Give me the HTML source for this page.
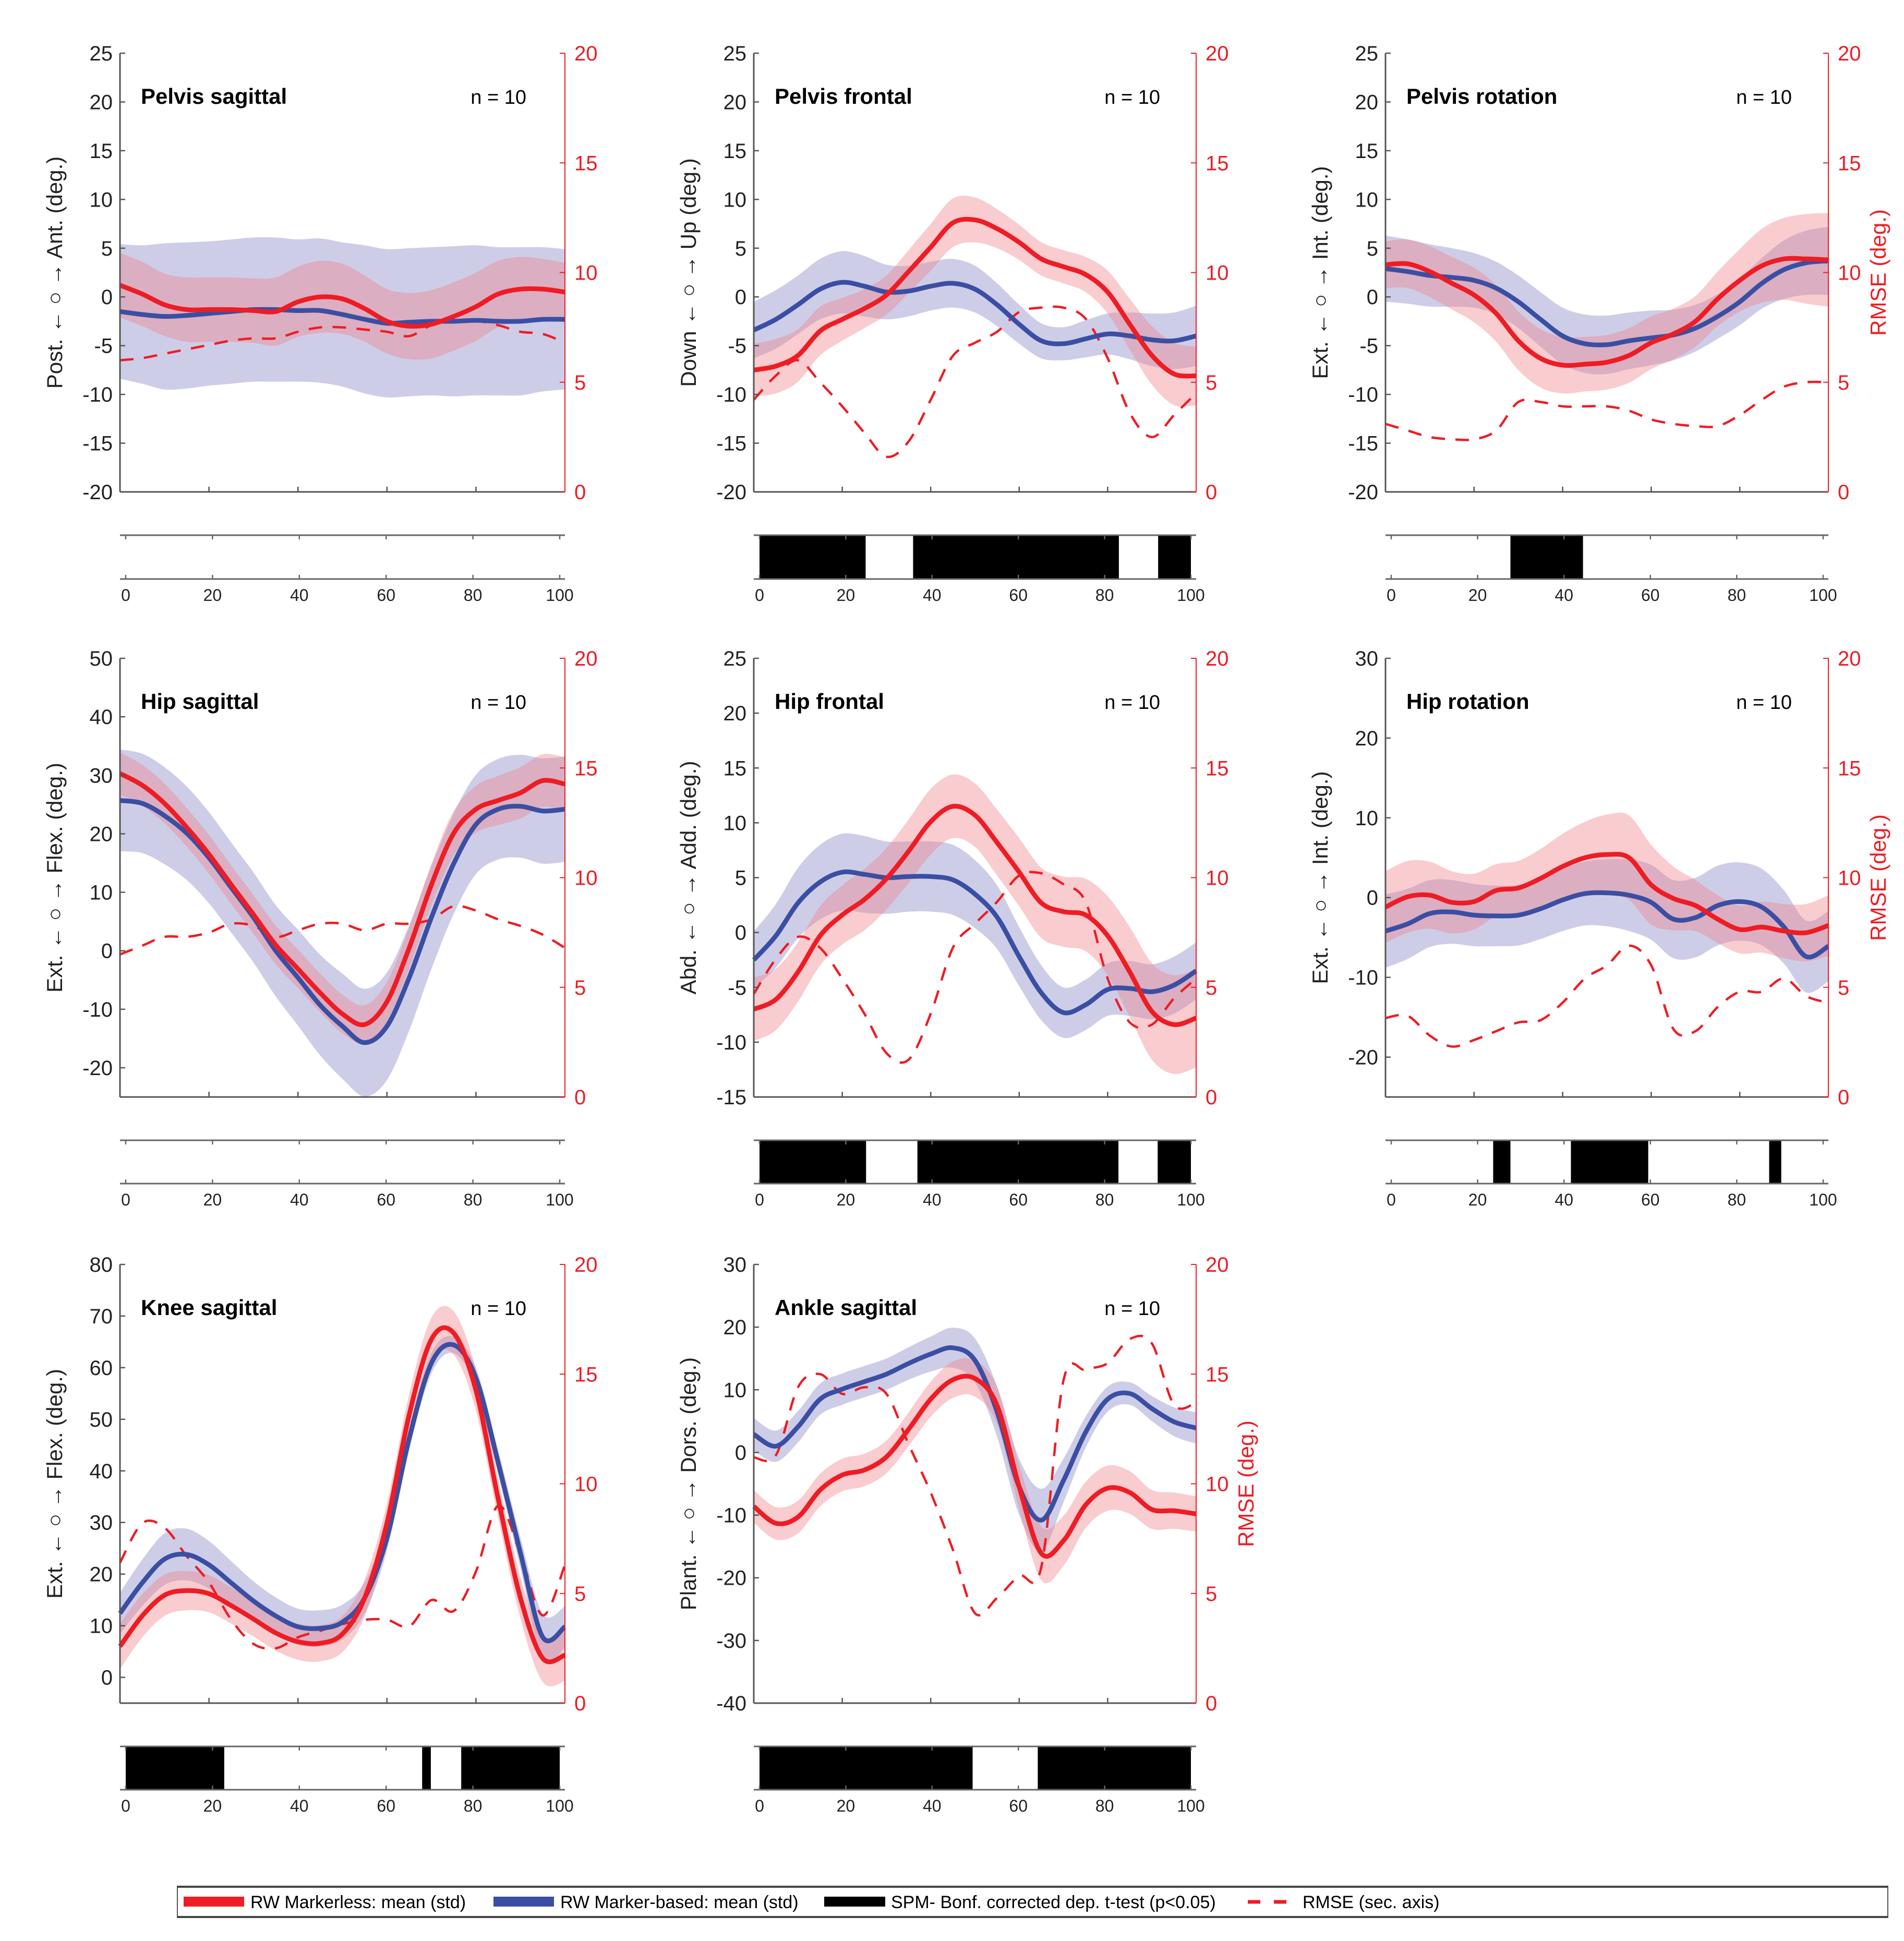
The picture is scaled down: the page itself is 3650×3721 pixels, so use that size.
<!DOCTYPE html>
<html><head><meta charset="utf-8">
<style>
html,body{margin:0;padding:0;background:#fff;}
svg{display:block;font-family:"Liberation Sans",Arial,sans-serif;}
</style></head>
<body>
<svg id="fig" width="3650" height="3721" viewBox="0 0 3650 3721" xmlns="http://www.w3.org/2000/svg">
<g id="legend">
  <rect x="340" y="3616" width="3279" height="60" fill="#fff" stroke="#555" stroke-width="2"/>
  <line x1="340" y1="3617" x2="3619" y2="3617" stroke="#444" stroke-width="4"/>
  <line x1="340" y1="3675" x2="3619" y2="3675" stroke="#444" stroke-width="4"/>
  <rect x="352" y="3636" width="116" height="19" fill="#ee1c24"/>
  <text x="480" y="3658" font-size="34" fill="#000">RW Markerless: mean (std)</text>
  <rect x="946" y="3636" width="116" height="19" fill="#3a4fa3"/>
  <text x="1074" y="3658" font-size="34" fill="#000">RW Marker-based: mean (std)</text>
  <rect x="1580" y="3636" width="117" height="19" fill="#000"/>
  <text x="1708" y="3658" font-size="34" fill="#000">SPM- Bonf. corrected dep. t-test (p&lt;0.05)</text>
  <line x1="2392" y1="3646" x2="2478" y2="3646" stroke="#ee1c24" stroke-width="7" stroke-dasharray="24,26"/>
  <text x="2497" y="3658" font-size="34" fill="#000">RMSE (sec. axis)</text>
</g>
</svg>
<script>
const pct = [0,5,10,15,20,25,30,35,40,45,50,55,60,65,70,75,80,85,90,95,100];
const rmseTicks = [0,5,10,15,20];
const spmTicks = [0,20,40,60,80,100];

// Panel 1: Pelvis sagittal
const p1BlueMean = [-1.5,-1.8,-2,-1.9,-1.7,-1.5,-1.3,-1.3,-1.4,-1.4,-1.8,-2.3,-2.7,-2.6,-2.5,-2.5,-2.4,-2.5,-2.5,-2.3,-2.3];
const p1BlueSd = [6.9,7.1,7.5,7.5,7.4,7.4,7.4,7.4,7.3,7.4,7.4,7.6,7.6,7.6,7.6,7.7,7.7,7.6,7.6,7.4,7.2];
const p1RedMean = [1.2,0.3,-0.8,-1.3,-1.3,-1.3,-1.4,-1.5,-0.5,0,-0.2,-1.2,-2.5,-3,-2.8,-2,-1,0.3,0.8,0.8,0.5];
const p1RedSd = [3.3,3.3,3.2,3.3,3.3,3.3,3.3,3.5,3.6,3.7,3.6,3.4,3.3,3.4,3.5,3.5,3.5,3.4,3.3,3.1,3.0];
const p1Rmse = [6.0,6.1,6.3,6.5,6.7,6.9,7.0,7.0,7.3,7.5,7.5,7.4,7.3,7.1,7.6,7.8,7.8,7.6,7.3,7.2,6.8];
const p1Spm = [];
const p1Ticks = [-20,-15,-10,-5,0,5,10,15,20,25];

// Panel 2: Pelvis frontal
const p2BlueMean = [-3.4,-2.3,-0.8,0.8,1.5,1.1,0.5,0.6,1.1,1.4,0.8,-0.8,-2.8,-4.5,-4.8,-4.3,-3.8,-4.0,-4.4,-4.5,-4.0];
const p2BlueSd = [2.9,3.0,3.0,3.1,3.2,3.1,2.8,2.6,2.5,2.5,2.4,2.2,2.0,1.8,1.7,1.9,2.1,2.4,2.7,2.9,3.1];
const p2RedMean = [-7.5,-7.1,-6.0,-3.5,-2.3,-1.2,0.2,2.6,5.1,7.6,7.9,7.0,5.6,3.9,3.1,2.3,0.5,-2.8,-6.0,-7.9,-8.1];
const p2RedSd = [2.7,2.8,2.7,2.5,2.2,2.0,2.0,2.2,2.4,2.5,2.3,2.0,1.8,1.7,1.7,1.8,2.2,2.6,3.0,3.2,3.0];
const p2Rmse = [4.2,5.3,6.0,5.0,3.9,2.7,1.6,2.3,4.2,6.2,6.8,7.3,8.2,8.4,8.4,7.9,6.1,3.6,2.5,3.5,4.5];
const p2Spm = [[0,24.6],[35.6,83.3],[92.4,100]];
const p2Ticks = [-20,-15,-10,-5,0,5,10,15,20,25];

// Panel 3: Pelvis rotation
const p3BlueMean = [2.9,2.6,2.2,2.0,1.7,0.9,-0.5,-2.3,-4.0,-4.8,-4.9,-4.5,-4.2,-3.9,-3.2,-2.0,-0.5,1.4,2.8,3.5,3.7];
const p3BlueSd = [3.4,3.3,3.2,3.0,2.8,2.7,2.7,2.8,2.9,3.0,3.0,2.9,2.8,2.6,2.4,2.3,2.4,2.6,3.0,3.3,3.5];
const p3RedMean = [3.3,3.4,2.6,1.4,0.2,-1.7,-4.5,-6.3,-7.0,-6.9,-6.7,-6.0,-4.7,-3.8,-2.5,-0.2,1.7,3.2,3.9,3.9,3.8];
const p3RedSd = [2.4,2.5,2.6,2.7,2.8,2.9,3.0,3.0,2.9,2.8,2.8,2.8,2.7,2.6,2.6,2.8,3.2,3.8,4.2,4.6,4.8];
const p3Rmse = [3.1,2.8,2.5,2.4,2.4,2.8,4.1,4.1,3.9,3.9,3.9,3.7,3.3,3.1,3.0,3.0,3.5,4.2,4.8,5.0,5.0];
const p3Spm = [[27.6,44.4]];
const p3Ticks = [-20,-15,-10,-5,0,5,10,15,20,25];

// Panel 4: Hip sagittal
const p4BlueMean = [25.7,25.2,23.1,20.1,15.9,10.8,5.7,0,-4.6,-9.3,-12.9,-15.7,-12.9,-4.6,5.7,14.9,21.6,24.2,24.7,23.9,24.2];
const p4BlueSd = [8.7,8.5,8.3,8.0,7.8,7.7,7.7,7.8,8.2,8.6,9.0,9.2,9.2,9.0,8.8,8.6,8.5,8.6,8.8,9.0,9.0];
const p4RedMean = [30.3,28.3,25.2,21.1,16.5,11.3,6.2,1.0,-3.1,-7.2,-10.8,-12.6,-8.7,0.5,11.3,20.1,24.2,25.7,27.0,29.1,28.5];
const p4RedSd = [3.6,3.5,3.4,3.3,3.3,3.3,3.3,3.3,3.3,3.3,3.3,3.3,3.4,3.5,3.6,3.8,4.0,4.2,4.4,4.5,4.6];
const p4Rmse = [6.5,6.9,7.3,7.3,7.5,7.9,7.8,7.3,7.6,7.9,7.9,7.6,7.9,7.9,8.1,8.7,8.5,8.1,7.8,7.4,6.8];
const p4Spm = [];
const p4Ticks = [-20,-10,0,10,20,30,40,50];

// Panel 5: Hip frontal
const p5BlueMean = [-2.5,-0.3,2.7,4.6,5.5,5.3,5.0,5.1,5.1,4.8,3.5,1.4,-2.2,-5.5,-7.3,-6.6,-5.2,-5.1,-5.4,-4.8,-3.5];
const p5BlueSd = [2.6,2.9,3.2,3.4,3.5,3.5,3.3,3.2,3.2,3.2,3.1,2.9,2.7,2.5,2.3,2.3,2.4,2.5,2.5,2.6,2.6];
const p5RedMean = [-7.0,-6.1,-3.6,-0.3,1.6,3.0,4.9,7.4,10.1,11.5,10.7,8.2,5.5,2.7,1.9,1.6,-0.3,-3.6,-7.2,-8.4,-7.8];
const p5RedSd = [2.9,2.8,2.7,2.7,2.7,2.8,2.8,2.9,3.0,2.9,2.9,3.0,3.1,3.2,3.2,3.3,3.6,4.1,4.4,4.5,4.5];
const p5Rmse = [4.7,6.3,7.3,6.8,5.4,3.8,2.0,1.7,3.8,6.8,7.9,8.9,10.1,10.2,9.7,8.9,5.4,3.4,3.3,4.5,5.4];
const p5Spm = [[0,24.7],[36.6,83.2],[92.3,100]];
const p5Ticks = [-15,-10,-5,0,5,10,15,20,25];

// Panel 6: Hip rotation
const p6BlueMean = [-4.2,-3.3,-2.0,-1.8,-2.2,-2.3,-2.2,-1.4,-0.3,0.5,0.6,0.3,-0.6,-2.7,-2.5,-1.0,-0.5,-1.2,-3.7,-7.4,-6.1];
const p6BlueSd = [4.6,4.4,4.2,4.0,3.9,3.8,3.8,3.8,3.9,4.0,4.2,4.5,4.7,4.9,5.0,5.0,4.9,4.8,4.6,4.5,4.4];
const p6RedMean = [-1.2,0.1,0.3,-0.6,-0.5,0.9,1.2,2.4,3.9,5.0,5.4,5.0,1.6,-0.1,-1.0,-2.7,-4.0,-3.7,-4.2,-4.4,-3.5];
const p6RedSd = [4.5,4.5,4.2,3.9,3.5,3.3,3.4,3.7,4.1,4.5,5.0,5.3,5.0,4.0,3.2,3.0,3.0,3.2,3.4,3.6,3.8];
const p6Rmse = [3.6,3.7,2.8,2.3,2.6,3.0,3.4,3.5,4.3,5.4,6.0,6.9,6.0,3.1,3.0,4.1,4.8,4.8,5.4,4.6,4.3];
const p6Spm = [[23.6,27.6],[41.6,59.5],[87.5,90.3]];
const p6Ticks = [-20,-10,0,10,20,30];

// Panel 7: Knee sagittal
const p7BlueMean = [12.4,18.3,22.9,23.8,21.8,18.3,14.8,11.9,9.8,9.5,10.7,15.4,27.0,46.3,60.9,64.4,58.0,41.6,24.1,7.8,9.8];
const p7BlueSd = [4.0,4.5,5.0,5.0,4.6,4.2,3.8,3.6,3.5,3.5,3.4,3.0,2.5,2.2,2.0,1.6,2.0,2.4,3.0,4.5,4.0];
const p7RedMean = [6.0,11.9,15.9,16.8,16.2,13.9,11.3,8.6,6.9,6.6,8.4,15.4,29.9,50.9,65.5,66.7,55.6,34.6,15.4,3.7,4.3];
const p7RedSd = [4.4,4.2,4.0,3.8,3.6,3.5,3.4,3.4,3.5,3.5,3.5,3.6,3.8,4.0,4.2,4.2,4.0,3.8,4.0,4.6,5.0];
const p7Rmse = [6.4,8.2,8.0,6.7,5.5,3.8,2.7,2.5,3.0,3.3,3.6,3.8,3.8,3.5,4.7,4.2,6.0,9.0,6.8,4.0,6.3];
const p7Spm = [[0,22.7],[68.3,70.3],[77.3,100]];
const p7Ticks = [0,10,20,30,40,50,60,70,80];

// Panel 8: Ankle sagittal
const p8BlueMean = [2.9,1.0,4.1,8.5,10.1,11.3,12.5,14.2,15.7,16.7,14.7,6.5,-5.5,-10.8,-4.5,3.2,8.5,9.4,7.0,4.9,3.9];
const p8BlueSd = [2.6,2.5,2.5,2.5,2.5,2.5,2.5,2.6,2.8,3.2,3.5,4.0,4.5,5.0,3.5,2.5,2.0,1.8,2.0,2.3,2.5];
const p8RedMean = [-8.6,-11.3,-10.3,-6.0,-3.6,-2.8,-0.7,3.7,8.5,11.6,11.8,7.5,-5.5,-16.1,-14.1,-8.4,-5.7,-6.4,-9.1,-9.3,-9.8];
const p8RedSd = [2.6,2.6,2.6,2.6,2.6,2.6,2.6,2.7,2.8,2.9,2.9,3.0,3.5,4.3,4.0,3.7,3.6,3.4,3.1,2.9,2.8];
const p8Rmse = [11.2,11.3,14.4,15.0,14.1,14.4,14.1,11.8,9.6,7.0,4.1,4.8,5.8,6.2,14.7,15.2,15.5,16.6,16.4,13.6,13.7];
const p8Spm = [[0,49.4],[64.5,100]];
const p8Ticks = [-40,-30,-20,-10,0,10,20,30];

const NS = 'http://www.w3.org/2000/svg';
const svg = document.getElementById('fig');
const colL = [230, 1445, 2656], colR = [1083, 2293, 3505];
const rowT = [102, 1262, 2424], rowB = [943, 2103, 3265];
const spmT = [1026, 2186, 3348], spmB = [1110, 2269, 3431];

function el(tag, attrs, parent) {
  const e = document.createElementNS(NS, tag);
  for (const k in attrs) e.setAttribute(k, attrs[k]);
  (parent || svg).appendChild(e);
  return e;
}
function smoothPath(pts) {
  let d = 'M' + pts[0][0].toFixed(1) + ',' + pts[0][1].toFixed(1);
  for (let i = 0; i < pts.length - 1; i++) {
    const p0 = pts[Math.max(0, i - 1)], p1 = pts[i], p2 = pts[i + 1], p3 = pts[Math.min(pts.length - 1, i + 2)];
    const c1x = p1[0] + (p2[0] - p0[0]) / 6, c1y = p1[1] + (p2[1] - p0[1]) / 6;
    const c2x = p2[0] - (p3[0] - p1[0]) / 6, c2y = p2[1] - (p3[1] - p1[1]) / 6;
    d += 'C' + c1x.toFixed(1) + ',' + c1y.toFixed(1) + ' ' + c2x.toFixed(1) + ',' + c2y.toFixed(1) + ' ' + p2[0].toFixed(1) + ',' + p2[1].toFixed(1);
  }
  return d;
}

const panels = [
  {title:'Pelvis sagittal', ylab:'Post. \u2190 \u25CB \u2192 Ant. (deg.)', c:0, r:0, ymin:-20, ymax:25, ticks:p1Ticks, bm:p1BlueMean, bs:p1BlueSd, rm:p1RedMean, rs:p1RedSd, e:p1Rmse, spm:p1Spm, rlab:false, key:'pelvis-sagittal'},
  {title:'Pelvis frontal', ylab:'Down \u2190 \u25CB \u2192 Up  (deg.)', c:1, r:0, ymin:-20, ymax:25, ticks:p2Ticks, bm:p2BlueMean, bs:p2BlueSd, rm:p2RedMean, rs:p2RedSd, e:p2Rmse, spm:p2Spm, rlab:false, key:'pelvis-frontal'},
  {title:'Pelvis rotation', ylab:'Ext. \u2190 \u25CB \u2192 Int. (deg.)', c:2, r:0, ymin:-20, ymax:25, ticks:p3Ticks, bm:p3BlueMean, bs:p3BlueSd, rm:p3RedMean, rs:p3RedSd, e:p3Rmse, spm:p3Spm, rlab:true, key:'pelvis-rotation'},
  {title:'Hip sagittal', ylab:'Ext. \u2190 \u25CB \u2192 Flex. (deg.)', c:0, r:1, ymin:-25, ymax:50, ticks:p4Ticks, bm:p4BlueMean, bs:p4BlueSd, rm:p4RedMean, rs:p4RedSd, e:p4Rmse, spm:p4Spm, rlab:false, key:'hip-sagittal'},
  {title:'Hip frontal', ylab:'Abd. \u2190 \u25CB \u2192 Add. (deg.)', c:1, r:1, ymin:-15, ymax:25, ticks:p5Ticks, bm:p5BlueMean, bs:p5BlueSd, rm:p5RedMean, rs:p5RedSd, e:p5Rmse, spm:p5Spm, rlab:false, key:'hip-frontal'},
  {title:'Hip rotation', ylab:'Ext. \u2190 \u25CB \u2192 Int. (deg.)', c:2, r:1, ymin:-25, ymax:30, ticks:p6Ticks, bm:p6BlueMean, bs:p6BlueSd, rm:p6RedMean, rs:p6RedSd, e:p6Rmse, spm:p6Spm, rlab:true, key:'hip-rotation'},
  {title:'Knee sagittal', ylab:'Ext. \u2190 \u25CB \u2192 Flex. (deg.)', c:0, r:2, ymin:-5, ymax:80, ticks:p7Ticks, bm:p7BlueMean, bs:p7BlueSd, rm:p7RedMean, rs:p7RedSd, e:p7Rmse, spm:p7Spm, rlab:false, key:'knee-sagittal'},
  {title:'Ankle sagittal', ylab:'Plant. \u2190 \u25CB \u2192 Dors. (deg.)', c:1, r:2, ymin:-40, ymax:30, ticks:p8Ticks, bm:p8BlueMean, bs:p8BlueSd, rm:p8RedMean, rs:p8RedSd, e:p8Rmse, spm:p8Spm, rlab:true, key:'ankle-sagittal'}
];

panels.forEach(function(p) {
  const L = colL[p.c], R = colR[p.c], T = rowT[p.r], B = rowB[p.r];
  const g = el('g', {});
  
  
  const xs = function(v){ return L + (R - L) * v / 100; };
  const ys = function(v){ return B - (B - T) * (v - p.ymin) / (p.ymax - p.ymin); };
  const ys2 = function(v){ return B - (B - T) * v / 20; };

  function band(mean, sd, fill, op, name) {
    const up = pct.map(function(x,i){ return [xs(x), ys(mean[i] + sd[i])]; });
    const lo = pct.map(function(x,i){ return [xs(x), ys(mean[i] - sd[i])]; }).reverse();
    const d = smoothPath(up) + smoothPath(lo).replace('M','L') + 'Z';
    const e = el('path', {d:d, fill:fill, 'fill-opacity':op, stroke:'none'}, g);
    
    
  }
  band(p.bm, p.bs, '#9d9bd2', 0.5, 'marker-based-std-band');
  band(p.rm, p.rs, '#f07f86', 0.4, 'markerless-std-band');
  const eP = el('path', {d:smoothPath(pct.map(function(x,i){return [xs(x), ys2(p.e[i])];})), fill:'none', stroke:'#ee1c24', 'stroke-width':4.5, 'stroke-dasharray':'26,20'}, g);
  
  
  const bP = el('path', {d:smoothPath(pct.map(function(x,i){return [xs(x), ys(p.bm[i])];})), fill:'none', stroke:'#3a4fa3', 'stroke-width':9, 'stroke-linejoin':'round'}, g);
  
  
  const rP = el('path', {d:smoothPath(pct.map(function(x,i){return [xs(x), ys(p.rm[i])];})), fill:'none', stroke:'#ee1c24', 'stroke-width':9, 'stroke-linejoin':'round'}, g);
  
  

  // axes
  const ax = el('g', {}, g);
  
  
  el('line', {x1:L, y1:T, x2:L, y2:B, stroke:'#555', 'stroke-width':3}, ax);
  el('line', {x1:L, y1:B, x2:R, y2:B, stroke:'#555', 'stroke-width':3}, g);
  p.ticks.forEach(function(t) {
    const y = ys(t);
    el('line', {x1:L, y1:y, x2:L + 10, y2:y, stroke:'#555', 'stroke-width':2.5}, ax);
    const tx = el('text', {x:L - 14, y:y + 14, 'font-size':40, 'text-anchor':'end', fill:'#222'}, ax);
    tx.textContent = t;
    
    
  });
  [20,40,60,80].forEach(function(t) {
    el('line', {x1:xs(t), y1:B, x2:xs(t), y2:B - 10, stroke:'#555', 'stroke-width':2.5}, g);
  });
  const ax2 = el('g', {}, g);
  
  
  el('line', {x1:R, y1:T, x2:R, y2:B, stroke:'#ee1c24', 'stroke-width':2}, ax2);
  rmseTicks.forEach(function(t) {
    const y = ys2(t);
    el('line', {x1:R, y1:y, x2:R - 10, y2:y, stroke:'#ee1c24', 'stroke-width':2}, ax2);
    const tx = el('text', {x:R + 18, y:y + 14, 'font-size':40, fill:'#ee1c24'}, ax2);
    tx.textContent = t;
    
    
  });
  if (p.rlab) {
    const cx = R + 110, cy = (T + B) / 2;
    const rl = el('text', {x:cx, y:cy, 'font-size':42, fill:'#ee1c24', 'text-anchor':'middle', transform:'rotate(-90 ' + cx + ' ' + cy + ')'}, g);
    rl.textContent = 'RMSE (deg.)';
    
    
  }
  const lx = L - 111, ly = (T + B) / 2;
  const yl = el('text', {x:lx, y:ly, 'font-size':42, fill:'#222', 'text-anchor':'middle', transform:'rotate(-90 ' + lx + ' ' + ly + ')'}, g);
  yl.textContent = p.ylab;
  
  
  const tt = el('text', {x:L + 40, y:T + 97, 'font-size':42, 'font-weight':'bold', fill:'#000'}, g);
  tt.textContent = p.title;
  
  
  const nn = el('text', {x:L + 779, y:T + 97, 'font-size':38, 'text-anchor':'end', fill:'#000'}, g);
  nn.textContent = 'n = 10';
  
  

  // SPM strip
  const sg = el('g', {}, g);
  
  
  const sT = spmT[p.r], sB = spmB[p.r];
  const sx = function(v){ return L + 11 + (R - L - 21) * v / 100; };
  p.spm.forEach(function(s) {
    const rr = el('rect', {x:sx(s[0]), y:sT, width:sx(s[1]) - sx(s[0]), height:sB - sT, fill:'#000'}, sg);
    
    
  });
  el('line', {x1:L, y1:sT, x2:R, y2:sT, stroke:'#666', 'stroke-width':3}, sg);
  el('line', {x1:L, y1:sB, x2:R, y2:sB, stroke:'#666', 'stroke-width':3}, sg);
  spmTicks.forEach(function(t) {
    el('line', {x1:sx(t), y1:sT, x2:sx(t), y2:sT + 8, stroke:'#666', 'stroke-width':2.5}, sg);
    el('line', {x1:sx(t), y1:sB, x2:sx(t), y2:sB - 8, stroke:'#666', 'stroke-width':2.5}, sg);
    const tx = el('text', {x:sx(t), y:sB + 42, 'font-size':32, 'text-anchor':'middle', fill:'#222'}, sg);
    tx.textContent = t;
    
    
  });
});
</script>
</body></html>
